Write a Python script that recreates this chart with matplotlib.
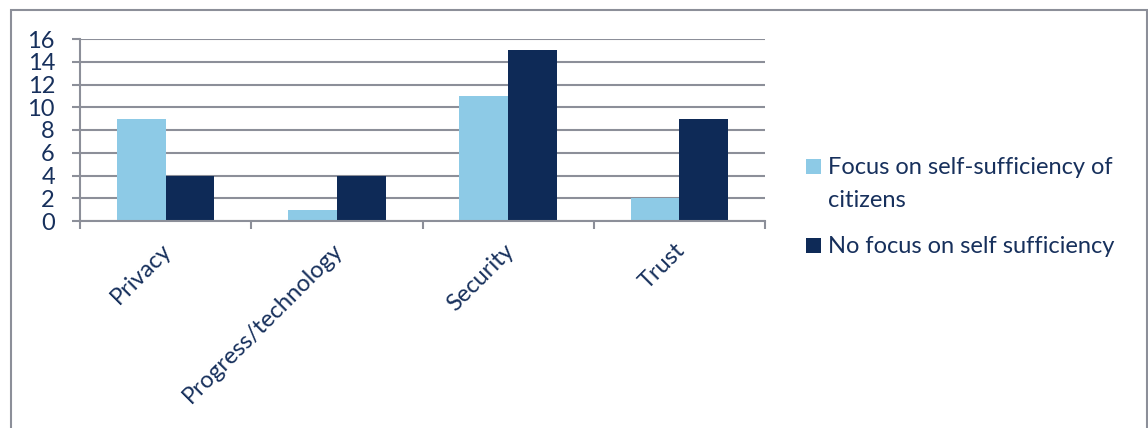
import numpy as np
import matplotlib
matplotlib.use('Agg')
import matplotlib.pyplot as plt
import matplotlib.transforms as mtransforms
from matplotlib.patches import Rectangle

plt.rcParams['font.family'] = ['Lato', 'DejaVu Sans']

categories = ['Privacy', 'Progress/technology', 'Security', 'Trust']
focus = [9, 1, 11, 2]
no_focus = [4, 4, 15, 9]
series_names = ['Focus on self-sufficiency of\ncitizens', 'No focus on self sufficiency']

light = '#8dcae6'
dark = '#0e2a57'
text_col = '#17305c'
grid_col = '#8c8f99'

W, H = 1148, 428
fig = plt.figure(figsize=(W / 100, H / 100), dpi=100)

# outer chart border (bottom edge lies outside the picture)
fig.patches.append(Rectangle((10.5 / W, -0.05), (1147 - 10.5) / W, 1.05 - 9.5 / H,
                             transform=fig.transFigure, fill=False,
                             edgecolor=grid_col, linewidth=1.5))

ax = fig.add_axes([80 / W, 1 - 221 / H, (765 - 80) / W, (221 - 39) / H])

x = np.arange(len(categories))
w = 0.284
ax.bar(x - w / 2, focus, w, color=light)
ax.bar(x + w / 2, no_focus, w, color=dark)

ax.set_xlim(-0.5, len(categories) - 0.5)
ax.set_ylim(0, 16)
ax.set_yticks(range(0, 17, 2))
ax.yaxis.grid(True, color=grid_col, linewidth=1.5)
ax.set_axisbelow(True)
for s in ['top', 'right']:
    ax.spines[s].set_visible(False)
for s in ['left', 'bottom']:
    ax.spines[s].set_color(grid_col)
    ax.spines[s].set_linewidth(1.5)

ax.tick_params(axis='y', length=6, width=1.5, color=grid_col, pad=12,
               labelsize=17, labelcolor=text_col)

# category boundaries get the tick marks, centres get the labels
ax.set_xticks(x)
ax.set_xticklabels(categories, rotation=45, ha='right', va='top',
                   rotation_mode='anchor', fontsize=17, color=text_col)
ax.tick_params(axis='x', which='major', length=0, pad=13.5)
ax.set_xticks(np.arange(-0.5, len(categories), 1), minor=True)
ax.tick_params(axis='x', which='minor', length=6, width=1.5, color=grid_col)
shift = mtransforms.ScaledTranslation(-5 / 100, 0, fig.dpi_scale_trans)
for lbl in ax.get_xticklabels():
    lbl.set_transform(lbl.get_transform() + shift)

# legend drawn by hand so the key sits beside the first text line
leg_colors = [light, dark]
leg_base = [174, 253]
for name, c, yb in zip(series_names, leg_colors, leg_base):
    fig.patches.append(Rectangle((806 / W, 1 - yb / H), 15 / W, 15 / H,
                                 transform=fig.transFigure, facecolor=c,
                                 edgecolor='none'))
    for i, line in enumerate(name.split('\n')):
        fig.text(828 / W, 1 - (yb + 33 * i) / H, line, ha='left', va='baseline',
                 fontsize=17, color=text_col)

fig.savefig('out.png', dpi=100, facecolor='white')
